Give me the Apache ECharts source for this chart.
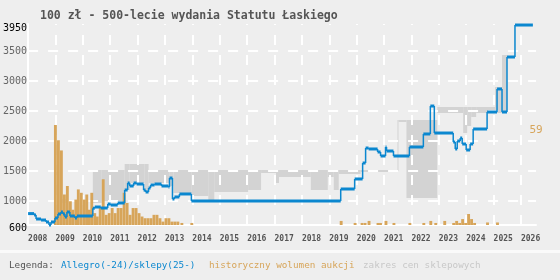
<!DOCTYPE html>
<html><head><meta charset="utf-8">
<script src="https://cdn.jsdelivr.net/npm/echarts@6/dist/echarts.min.js"></script>
<style>html,body{margin:0;padding:0;background:#eeeeee}#c{width:560px;height:280px}</style>
</head><body><div id="c"></div>
<script>
// ---- data ----
const yearTicks = [2008,2009,2010,2011,2012,2013,2014,2015,2016,2017,2018,2019,2020,2021,2022,2023,2024,2025,2026];
const priceLabels = [600,1000,1500,2000,2500,3000,3500,3950];
const gridPrices = [1000,1500,2000,2500,3000,3500];
const volumeLabel = [59];

// blue step line: Allegro/sklepy price (change points)
const priceX = [2008.000,2008.218,2008.291,2008.473,2008.655,2008.764,2008.836,2008.982,2009.091,2009.200,2009.273,2009.345,2009.418,2009.527,2009.709,2009.782,2010.364,2010.436,2010.655,2010.909,2011.018,2011.273,2011.527,2011.636,2011.709,2011.855,2011.964,2012.218,2012.291,2012.400,2012.473,2012.618,2012.873,2013.127,2013.164,2013.273,2013.345,2013.527,2013.964,2019.418,2019.927,2020.218,2020.327,2020.436,2020.764,2020.873,2021.055,2021.091,2021.345,2021.927,2022.436,2022.691,2022.836,2023.527,2023.600,2023.673,2023.782,2023.855,2024.000,2024.145,2024.255,2024.764,2025.127,2025.309,2025.491,2025.782];
const priceY = [790,767,700,683,650,600,650,717,783,817,783,733,817,750,717,750,880,900,883,950,933,967,1183,1300,1250,1300,1283,1183,1150,1217,1267,1283,1250,1233,1383,1033,1067,1117,1000,1200,1367,1633,1883,1867,1817,1750,1900,1833,1750,1900,2117,2583,2133,1983,1867,2000,2050,1950,1850,1950,2200,2483,2867,2483,3400,3933];
const priceEnd = 2026.436;

// orange bars: historical auction volume
const volX = [2008.945,2009.055,2009.164,2009.273,2009.382,2009.491,2009.582,2009.691,2009.782,2009.891,2010.000,2010.091,2010.182,2010.273,2010.382,2010.473,2010.582,2010.691,2010.800,2010.909,2011.018,2011.127,2011.236,2011.345,2011.455,2011.564,2011.673,2011.782,2011.891,2012.000,2012.109,2012.218,2012.327,2012.436,2012.545,2012.655,2012.764,2012.873,2012.982,2013.091,2013.200,2013.309,2013.418,2013.564,2013.927,2019.382,2019.891,2020.145,2020.255,2020.400,2020.727,2020.818,2021.018,2021.309,2021.891,2022.400,2022.655,2022.836,2023.164,2023.491,2023.600,2023.709,2023.818,2023.927,2024.036,2024.145,2024.255,2024.727,2025.091];
const volY = [59,50,44,18,23,14,9,15,21,19,15,18,9,19,7,5,10,27,6,7,10,7,10,10,19,13,6,10,10,7,5,4,4,4,6,6,4,2,4,4,2,2,2,1.2,1.2,2.4,1.2,1.2,1.2,2.4,1.2,1.2,2.4,1.2,1.2,1.2,2.4,1.2,2.4,1.2,2.4,1.2,3.5,1.2,6.5,3.5,1.2,1.5,1.5];
const volBin = 0.105;

// grey band: shop price range segments
const shopFrom = [2009.200,2010.364,2010.691,2011.527,2011.709,2012.255,2012.400,2013.164,2013.309,2013.964,2014.582,2014.800,2016.036,2016.509,2017.055,2017.164,2018.327,2018.945,2019.164,2019.345,2020.145,2021.491,2021.527,2021.818,2022.945,2023.891,2024.036,2024.182,2024.364,2025.055,2025.309];
const shopTo   = [2009.382,2010.691,2011.527,2011.709,2012.255,2012.400,2013.164,2013.309,2013.964,2014.582,2014.800,2016.036,2016.509,2017.055,2017.164,2018.327,2018.945,2019.164,2019.345,2020.145,2021.491,2021.527,2021.818,2022.945,2023.891,2024.036,2024.182,2024.364,2025.055,2025.309,2025.491];
const shopLow  = [967,967,1000,1183,1300,1150,1300,1250,1133,1083,1017,1150,1183,1467,1300,1400,1183,1400,1183,1450,1483,1500,2317,1050,2467,2133,2250,2400,2467,2467,2467];
const shopHigh = [1033,1517,1517,1617,1617,1617,1517,1517,1517,1517,1517,1517,1517,1517,1517,1517,1517,1517,1517,1517,1517,2350,2350,2350,2567,2567,2567,2567,2567,2900,3433];

// ---- colours / fonts ----
const BLUE = '#0b87cf', ORANGE = '#d7a55a', GREY = '#d3d3d3', BG = '#eeeeee';
const MONO = "'DejaVu Sans Mono', 'Liberation Mono', monospace";

const chart = echarts.init(document.getElementById('c'), null, {renderer:'canvas'});

const blueData = priceX.map((x,i)=>[x, i+1<priceX.length?priceX[i+1]:priceEnd, priceY[i], i>0?priceY[i-1]:priceY[i]]);
const volData = volX.map((x,i)=>[x, x+volBin, volY[i]]);
const shopData = shopFrom.map((x,i)=>[x, shopTo[i], shopLow[i], shopHigh[i]]);

chart.setOption({
  backgroundColor: BG,
  animation: false,
  title: {
    text: '100 zł - 500-lecie wydania Statutu Łaskiego',
    left: 35, top: 5,
    textStyle: {fontFamily: MONO, fontSize: 11.5, fontWeight: 'bold', color: '#555'}
  },
  grid: {left: 26, right: 24, top: 24, bottom: 55},
  xAxis: {
    type: 'value', min: 2008, max: 2026.55, interval: 1,
    axisLine: {show: true, onZero: false, lineStyle: {color: '#fff', width: 2}},
    axisTick: {show: false},
    splitLine: {show: false},
    axisLabel: {
      customValues: yearTicks,
      formatter: v => String(v), align: 'left', margin: 10,
      fontFamily: MONO, fontSize: 8, fontWeight: 'bold', color: '#555'
    }
  },
  yAxis: [{
    type: 'value', min: 600, max: 3950,
    axisLine: {show: true, lineStyle: {color: '#fff', width: 2}},
    axisTick: {show: false},
    splitLine: {show: false},
    axisLabel: {
      customValues: priceLabels, margin: 1,
      formatter: v => (v === 600 ? '{lo|600}' : v === 3950 ? '{hi|3950}' : '{n|' + v + '}'),
      rich: {
        n: {fontFamily: MONO, fontSize: 10, color: '#666'},
        lo: {fontFamily: MONO, fontSize: 10, color: '#000', padding: [6,0,0,0]},
        hi: {fontFamily: MONO, fontSize: 10, color: '#000', padding: [8,0,0,0]}
      }
    }
  }, {
    type: 'value', min: 0, max: 118.6, position: 'right',
    axisLine: {show: false}, axisTick: {show: false}, splitLine: {show: false},
    axisLabel: {
      customValues: volumeLabel, margin: 0, align: 'center', verticalAlign: 'top',
      fontFamily: MONO, fontSize: 11, color: ORANGE
    }
  }],
  graphic: [
    {type: 'rect', left: 0, top: 250, shape: {width: 560, height: 3}, style: {fill: '#fafafa'}, silent: true},
    {type: 'text', left: 9, top: 261, style: {text: 'Legenda:', fill: '#555', font: '9.3px ' + MONO}},
    {type: 'text', left: 61, top: 261, style: {text: 'Allegro(-24)/sklepy(25-)', fill: BLUE, font: '9.3px ' + MONO}},
    {type: 'text', left: 209, top: 261, style: {text: 'historyczny wolumen aukcji', fill: ORANGE, font: '9.3px ' + MONO}},
    {type: 'text', left: 363, top: 261, style: {text: 'zakres cen sklepowych', fill: '#c8c8c8', font: '9.3px ' + MONO}}
  ],
  series: [
    {
      name: 'zakres cen sklepowych', type: 'custom', z: 1, silent: true,
      data: shopData, encode: {x: [0,1], y: [2,3]},
      renderItem: (params, api) => {
        const a = api.coord([api.value(0), api.value(3)]);
        const b = api.coord([api.value(1), api.value(2)]);
        let h = b[1] - a[1];
        let y = a[1];
        if (h < 2) { y = (a[1] + b[1]) / 2 - 1; h = 2; }
        return {type: 'rect', shape: {x: a[0], y: y, width: Math.max(1, b[0] - a[0]), height: h}, style: {fill: GREY}};
      }
    },
    {
      name: 'grid', type: 'line', z: 2, silent: true, data: [[2008, 600]], showSymbol: false,
      lineStyle: {opacity: 0},
      markLine: {
        z: 2, silent: true, symbol: 'none', label: {show: false},
        lineStyle: {color: '#ffffff', width: 2, type: [10, 10]},
        emphasis: {disabled: true},
        data: gridPrices.map(v => ({yAxis: v})).concat(yearTicks.slice(1).map(v => ({xAxis: v})))
      }
    },
    {
      name: 'historyczny wolumen aukcji', type: 'custom', z: 3, silent: true, yAxisIndex: 1,
      data: volData, encode: {x: [0,1], y: 2},
      renderItem: (params, api) => {
        const a = api.coord([api.value(0), api.value(2)]);
        const b = api.coord([api.value(1), 0]);
        return {type: 'rect', shape: {x: a[0], y: a[1], width: b[0] - a[0], height: b[1] - a[1]}, style: {fill: ORANGE}};
      }
    },
    {
      name: 'Allegro(-24)/sklepy(25-)', type: 'custom', z: 4, silent: true,
      data: blueData, encode: {x: [0,1], y: [2,3]},
      renderItem: (params, api) => {
        const a = api.coord([api.value(0), api.value(2)]);
        const b = api.coord([api.value(1), api.value(2)]);
        const p = api.coord([api.value(0), api.value(3)]);
        return {type: 'group', children: [
          {type: 'line', shape: {x1: a[0], y1: p[1], x2: a[0], y2: a[1]}, style: {stroke: BLUE, lineWidth: 1.5}},
          {type: 'rect', shape: {x: a[0], y: a[1] - 1.5, width: b[0] - a[0], height: 3}, style: {fill: BLUE}}
        ]};
      }
    }
  ]
});
</script>
</body></html>
